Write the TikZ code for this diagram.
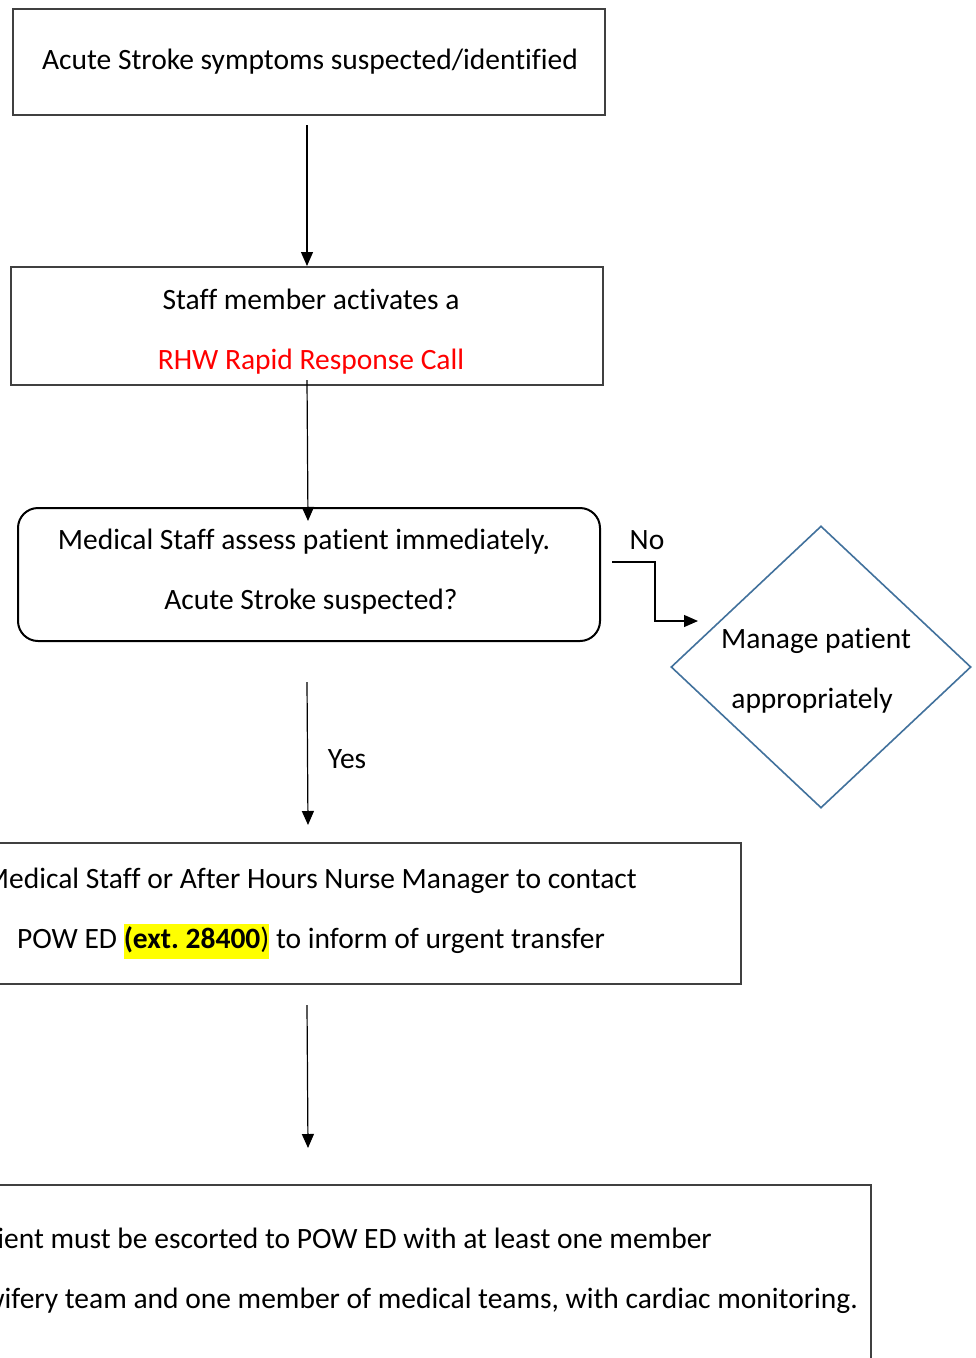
\documentclass[tikz,border=0pt]{standalone}
\usepackage{fontspec}
\setmainfont[Ligatures=CommonOff]{Carlito}
\usetikzlibrary{arrows.meta,shapes.geometric}
\definecolor{boxgray}{HTML}{404040}
\definecolor{dblue}{HTML}{41719C}
\definecolor{hl}{HTML}{FFFF00}
\definecolor{rred}{HTML}{FF0000}
\frenchspacing
\begin{document}
\begin{tikzpicture}[x=1pt,y=-1pt,
  txt/.style={inner sep=0pt, text height=21pt, text depth=6pt, yshift=-2pt, font=\fontsize{29.5}{34}\selectfont},
  gbox/.style={draw=boxgray, line width=2pt, inner sep=0pt},
  rbox/.style={draw=black, line width=2pt, inner sep=0pt, rounded corners=20pt},
  arr/.style={-{Triangle[length=14pt,width=12pt]}, line width=1.2pt, black}]
\useasboundingbox (0,0) rectangle (976,1358);
\clip (0,0) rectangle (976,1358);
\fill[white] (0,0) rectangle (976,1358);

% boxes
\node[gbox, minimum width=592pt, minimum height=106pt] (b1) at (309,62) {};
\node[gbox, minimum width=592pt, minimum height=118pt] (b2) at (307,326) {};
\node[rbox, minimum width=582pt, minimum height=133pt] (b3) at (309,574.5) {};
\node[gbox, minimum width=781pt, minimum height=141pt] (b4) at (350.5,913.5) {};
\node[gbox, minimum width=911pt, minimum height=215pt] (b5) at (415.5,1292.5) {};
\node[draw=dblue, line width=1.6pt, diamond, minimum width=300pt, minimum height=282pt, inner sep=0pt] (d) at (821,667) {};

% texts
\node[txt] (t1) at (310,60) {Acute Stroke symptoms suspected/identified};
\node[txt] (t2a) at (311,300) {Staff member activates a};
\node[txt, text=rred] (t2b) at (311,360) {RHW Rapid Response Call};
\node[txt] (t3a) at (304,540) {Medical Staff assess patient immediately.};
\node[txt] (t3b) at (311,600) {Acute Stroke suspected?};
\node[txt, anchor=east] (t4a) at (637,879) {Medical Staff or After Hours Nurse Manager to contact};
\node[txt] (t4b) at (311,939) {POW ED {\setlength{\fboxsep}{0pt}\colorbox{hl}{\rule[-10pt]{0pt}{35pt}\textbf{(ext. 28400})}} to inform of urgent transfer};
\node[txt, anchor=east] (t5a) at (712,1239) {ient must be escorted to POW ED with at least one member};
\node[txt, anchor=east] (t5b) at (858,1299) {wifery team and one member of medical teams, with cardiac monitoring.};
\node[txt] (td1) at (816,639) {Manage patient};
\node[txt] (td2) at (812,699) {appropriately};
\node[txt] (no) at (647,540) {No};
\node[txt] (yes) at (347,759) {Yes};

% connectors
\coordinate (a1s) at (307,125);
\coordinate (a2s) at (307,380);
\coordinate (a2e) at (308,521);
\coordinate (a3s) at (307,682);
\coordinate (a3e) at (308,825);
\coordinate (a4s) at (307,1005);
\coordinate (a4e) at (308,1148);
\coordinate (n0) at (612,562);
\coordinate (n1) at (655,562);
\coordinate (n2) at (655,621);
\coordinate (n3) at (698,621);
\draw[arr] (a1s) -- (a1s |- b2.north);
\draw[arr] (a2s) -- (a2e);
\draw[arr] (a3s) -- (a3e);
\draw[arr] (a4s) -- (a4e);
\draw[arr] (n0) -- (n1) -- (n2) -- (n3);
\end{tikzpicture}
\end{document}
